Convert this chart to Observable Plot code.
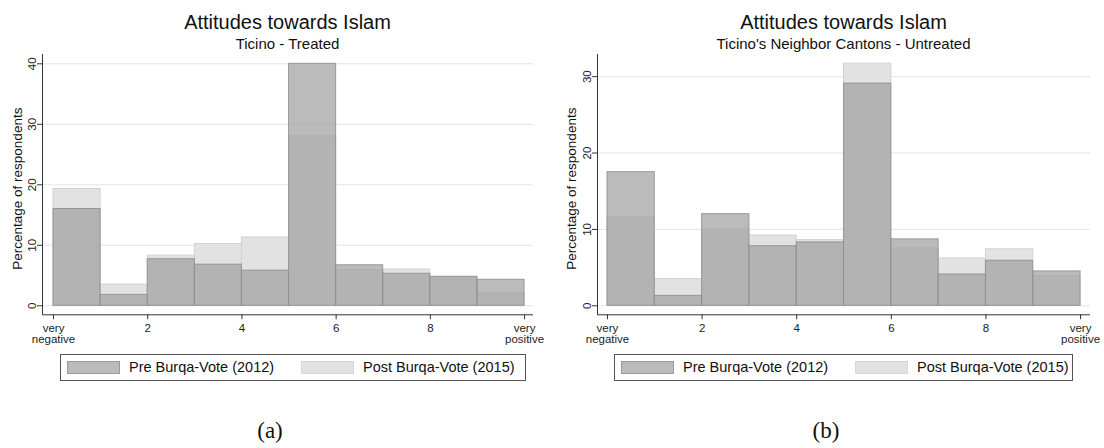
<!DOCTYPE html>
<html>
<head>
<meta charset="utf-8">
<script src="https://cdn.jsdelivr.net/npm/d3@7"></script>
<script src="https://cdn.jsdelivr.net/npm/@observablehq/plot@0.6"></script>
<style>
  html, body { margin: 0; padding: 0; background: #fff; }
  body { width: 1104px; height: 448px; position: relative; overflow: hidden;
         font-family: "Liberation Sans", Arial, sans-serif; color: #111; }
  .abs { position: absolute; white-space: nowrap; }
  .title { font-size: 20px; line-height: 20px; text-align: center; width: 500px; }
  .subtitle { font-size: 15px; line-height: 15px; text-align: center; width: 500px; }
  .legend { border: 1px solid #555; box-sizing: border-box; height: 27px; top: 354px; }
  .sw { position: absolute; top: 6px; width: 53px; height: 13px; box-sizing: border-box; }
  .lt { position: absolute; top: 5px; font-size: 14.5px; line-height: 14.5px; }
  .cap { font-family: "Liberation Serif", "DejaVu Serif", serif; font-size: 23px; line-height: 23px; text-align: center; width: 100px; }
</style>
</head>
<body>
<script>
// ---- data ----
const scoreBins = [0, 1, 2, 3, 4, 5, 6, 7, 8, 9];          // lower edge of each 1-point bin
const preTicino    = [16.0, 1.8, 7.7, 6.8, 5.8, 40.0, 6.7, 5.3, 4.8, 4.3];
const postTicino   = [19.3, 3.5, 8.3, 10.2, 11.3, 28.0, 5.9, 6.0, 4.7, 2.1];
const preNeighbor  = [17.5, 1.3, 12.0, 7.8, 8.3, 29.1, 8.7, 4.1, 5.9, 4.5];
const postNeighbor = [11.6, 3.5, 10.0, 9.2, 8.6, 31.7, 7.5, 6.2, 7.4, 3.9];
const xTicks = [0, 2, 4, 6, 8, 10];
const xTickLabels = ["very\nnegative", "2", "4", "6", "8", "very\npositive"];
const yTicksTicino = [0, 10, 20, 30, 40];
const yTicksNeighbor = [0, 10, 20, 30];
const seriesLabels = ["Pre Burqa-Vote (2012)", "Post Burqa-Vote (2015)"];
const mainTitle = "Attitudes towards Islam";
const subTitles = ["Ticino - Treated", "Ticino's Neighbor Cantons - Untreated"];
const yLabel = "Percentage of respondents";
const captions = ["(a)", "(b)"];

function addDiv(cls, text, style) {
  const d = document.createElement("div");
  d.className = "abs " + cls;
  if (text != null) d.textContent = text;
  Object.assign(d.style, style);
  document.body.appendChild(d);
  return d;
}

function panel(cfg) {
  const rows = scoreBins.map((b, i) => ({x1: b, x2: b + 1, pre: cfg.pre[i], post: cfg.post[i]}));
  const chart = Plot.plot({
    width: 552, height: 300,
    marginTop: 4, marginBottom: 35.7, marginLeft: cfg.ml, marginRight: cfg.mr,
    x: {domain: cfg.xDomain},
    y: {domain: cfg.yDomain},
    style: {fontFamily: "Liberation Sans, Arial, sans-serif", fontSize: "11.5px", color: "#222", background: "white", overflow: "visible"},
    marks: [
      Plot.gridY(cfg.yTicks, {stroke: "#e4e4e4", strokeOpacity: 1}),
      Plot.rect(rows, {x1: "x1", x2: "x2", y1: 0, y2: "post", fill: "#e2e2e2", stroke: "#d2d2d2", strokeWidth: 1}),
      Plot.rect(rows, {x1: "x1", x2: "x2", y1: 0, y2: "pre", fill: "#a1a1a1", fillOpacity: 0.72, stroke: "#8e8e8e", strokeOpacity: 0.85, strokeWidth: 1}),
      Plot.ruleX([cfg.xDomain[0]], {stroke: "#333"}),
      Plot.ruleY([cfg.yDomain[0]], {stroke: "#333"}),
      Plot.axisX(xTicks, {tickSize: 5, tickPadding: 4, stroke: "#333", tickFormat: d => xTickLabels[xTicks.indexOf(d)], label: null, fontSize: 11.5}),
      Plot.axisY(cfg.yTicks, {tickSize: 5, tickPadding: 2, stroke: "#333", tickRotate: -90, label: null, fontSize: 11.5}),
      Plot.text([yLabel], {frameAnchor: "left", rotate: -90, dx: cfg.labelDx, dy: 4, fontSize: 13.5, lineAnchor: "middle", textAnchor: "middle", fill: "#111"})
    ]
  });
  chart.style.position = "absolute";
  chart.style.left = cfg.left + "px";
  chart.style.top = "50px";
  document.body.appendChild(chart);

  const fc = cfg.left + cfg.ml + (552 - cfg.ml - cfg.mr) / 2;
  addDiv("title", mainTitle, {left: (fc - 250) + "px", top: "11.5px"});
  addDiv("subtitle", cfg.sub, {left: (fc - 250) + "px", top: "35.8px"});

  const lg = addDiv("legend", null, {left: cfg.lg[0] + "px", width: (cfg.lg[1] - cfg.lg[0]) + "px"});
  const s1 = document.createElement("div"); s1.className = "sw";
  Object.assign(s1.style, {left: "5.5px", background: "#bbbbbb", border: "1px solid #9a9a9a"}); lg.appendChild(s1);
  const t1 = document.createElement("div"); t1.className = "lt"; t1.textContent = seriesLabels[0];
  t1.style.left = "68px"; lg.appendChild(t1);
  const s2 = document.createElement("div"); s2.className = "sw";
  Object.assign(s2.style, {left: "239.5px", background: "#e2e2e2", border: "1px solid #d6d6d6"}); lg.appendChild(s2);
  const t2 = document.createElement("div"); t2.className = "lt"; t2.textContent = seriesLabels[1];
  t2.style.left = "302px"; lg.appendChild(t2);

  addDiv("cap", cfg.cap, {left: (cfg.capX - 50) + "px", top: "419px"});
}

panel({pre: preTicino, post: postTicino, left: 0, ml: 42, mr: 19,
       xDomain: [-0.234, 10.19], yDomain: [-1.49, 41.54], yTicks: yTicksTicino,
       labelDx: -25.3, sub: subTitles[0], lg: [60, 526], cap: captions[0], capX: 270});
panel({pre: preNeighbor, post: postNeighbor, left: 552, ml: 45, mr: 14,
       xDomain: [-0.211, 10.21], yDomain: [-1.18, 32.9], yTicks: yTicksNeighbor,
       labelDx: -26, sub: subTitles[1], lg: [614, 1073], cap: captions[1], capX: 826});
</script>
</body>
</html>
